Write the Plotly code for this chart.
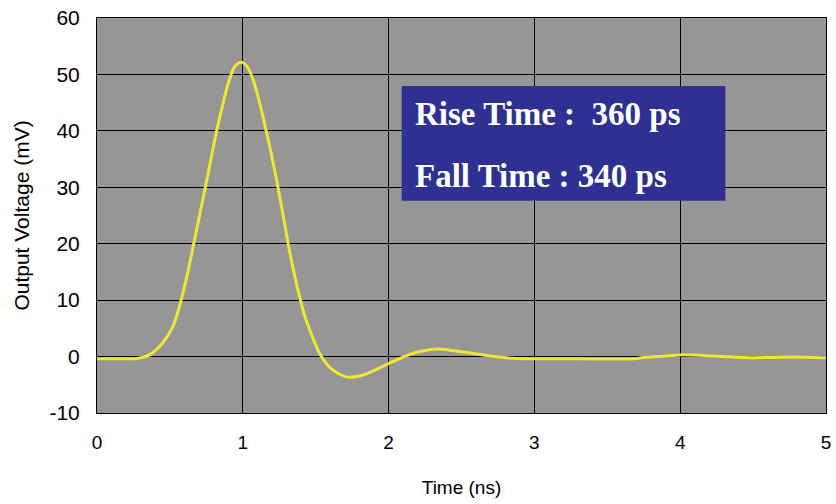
import plotly.graph_objects as go

time_ns = [0.0, 0.1, 0.2, 0.25, 0.3, 0.36, 0.45, 0.52, 0.57, 0.62, 0.66, 0.7, 0.74, 0.78,
           0.82, 0.86, 0.9, 0.94, 0.97, 1.0, 1.03, 1.06, 1.1, 1.14, 1.18, 1.22, 1.26,
           1.3, 1.34, 1.38, 1.42, 1.47, 1.53, 1.6, 1.71, 1.82, 1.94, 2.01, 2.17, 2.34, 2.51,
           2.7, 2.85, 3.0, 3.3, 3.68, 3.77, 3.9, 4.0, 4.15, 4.3, 4.5, 4.7, 4.85, 5.0]
voltage_mv = [-0.4, -0.4, -0.4, -0.4, -0.2, 0.3, 2.4, 5.3, 9.3, 14.6, 19.6, 24.6, 29.6, 34.8,
              39.9, 44.4, 48.4, 51.2, 52.0, 52.1, 51.4, 49.8, 46.5, 42.3, 37.8, 32.8, 27.4,
              21.6, 16.2, 11.6, 7.6, 4.0, 0.4, -2.0, -3.6, -3.3, -2.0, -1.1, 0.6, 1.35, 0.8,
              0.1, -0.3, -0.4, -0.4, -0.4, -0.1, 0.1, 0.3, 0.2, 0.0, -0.2, -0.1, -0.1, -0.2]

x_ticks = [0, 1, 2, 3, 4, 5]
y_ticks = [-10, 0, 10, 20, 30, 40, 50, 60]
notes = ["Rise Time :  360 ps", "Fall Time : 340 ps"]

fig = go.Figure()
fig.add_trace(go.Scatter(x=time_ns, y=voltage_mv, mode="lines",
                         line=dict(color="#EEE835", width=3, shape="spline", smoothing=0.8),
                         showlegend=False, hoverinfo="skip"))

fig.add_shape(type="rect", xref="x", yref="y", x0=2.09, x1=4.31, y0=27.6, y1=47.95,
              fillcolor="#2E3192", line=dict(width=0), layer="above")
fig.add_annotation(x=2.17, y=43.0, xref="x", yref="y", text="<b>" + notes[0] + "</b>",
                   showarrow=False, xanchor="left", yanchor="middle",
                   font=dict(family="Liberation Serif", size=33, color="white"))
fig.add_annotation(x=2.17, y=32.0, xref="x", yref="y", text="<b>" + notes[1] + "</b>",
                   showarrow=False, xanchor="left", yanchor="middle",
                   font=dict(family="Liberation Serif", size=33, color="white"))

xfont = dict(family="Liberation Sans, Arial", size=19, color="black")
yfont = dict(family="Liberation Sans, Arial", size=21, color="black")
fig.update_layout(
    width=836, height=504,
    margin=dict(l=97, r=10, t=18, b=91),
    paper_bgcolor="white", plot_bgcolor="#969696",
    font=xfont,
    xaxis=dict(range=[0, 5], tickvals=x_ticks, ticktext=[str(v) for v in x_ticks],
               showgrid=True, gridcolor="black", gridwidth=1, zeroline=False,
               showline=True, linecolor="black", linewidth=1, mirror=True,
               ticks="", ticklabelstandoff=12, tickfont=xfont, automargin=False,
               ticklabeloverflow="allow",
               title=dict(text="Time (ns)", font=xfont, standoff=28)),
    yaxis=dict(range=[-10, 60], tickvals=y_ticks, ticktext=[str(v) for v in y_ticks],
               showgrid=True, gridcolor="black", gridwidth=1, zeroline=False,
               showline=True, linecolor="black", linewidth=1, mirror=True,
               ticks="inside", ticklen=6, tickcolor="black", ticklabelstandoff=12,
               tickfont=yfont, automargin=False, ticklabeloverflow="allow",
               title=dict(text="Output Voltage (mV)", font=yfont, standoff=14)),
)

fig.write_html("out.html", config={"displayModeBar": False},
               post_script="document.body.style.margin='0px';document.body.style.overflow='hidden';")
